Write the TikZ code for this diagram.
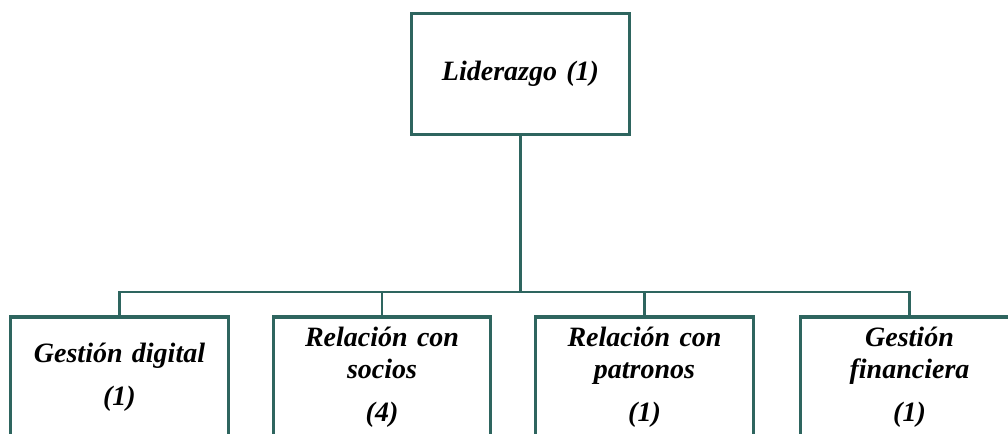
\documentclass[tikz,border=0pt]{standalone}
\usepackage{fontspec}
\setmainfont{Liberation Serif}
\usetikzlibrary{positioning,calc}
\definecolor{tealline}{RGB}{46,101,95}
\tikzset{font=\fontsize{21}{24}\selectfont\bfseries\itshape}

\begin{document}
\begin{tikzpicture}[x=0.75pt,y=-0.75pt]
	\tikzstyle{box}=[draw=tealline, line width=2.3pt, fill=white, align=center, text width=150pt, minimum width=163pt, minimum height=91pt, inner sep=2pt]
	\tikzstyle{link}=[draw=tealline, line width=2.2pt]
	\useasboundingbox (0,0) rectangle (1008,433);

	\node[box] (lid) at (520.5, 74) {Liderazgo (1)};

	\node[box, minimum height=90pt] (gd) at (119.5, 377) {Gestión digital\\[8pt] (1)};
	\node[box, minimum height=90pt] (rs) at (382, 377) {Relación con\\ socios\\[8pt] (4)};
	\node[box, minimum height=90pt] (rp) at (644.5, 377) {Relación con\\ patronos\\[8pt] (1)};
	\node[box, minimum height=90pt] (gf) at (909.5, 377) {Gestión\\ financiera\\[8pt] (1)};

	\coordinate (bus) at (520.5, 292);

	\draw[link] (lid) -- (bus);
	\draw[link] (bus) -| (gd);
	\draw[link] (bus) -| (rs);
	\draw[link] (bus) -| (rp);
	\draw[link] (bus) -| (gf);

\end{tikzpicture}
\end{document}
